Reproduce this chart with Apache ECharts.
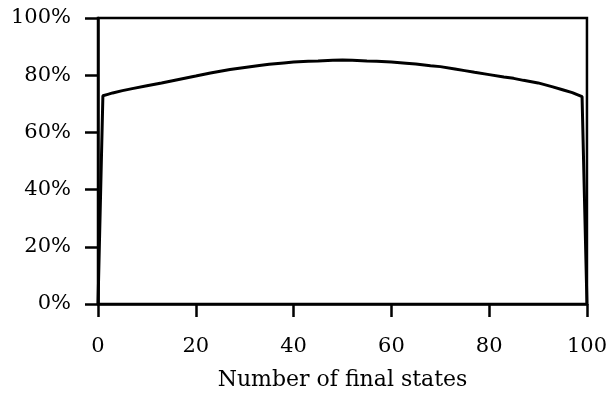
<!DOCTYPE html>
<html>
<head>
<meta charset="utf-8">
<script src="https://cdn.jsdelivr.net/npm/echarts@6/dist/echarts.min.js"></script>
<style>html,body{margin:0;padding:0;background:#fff}#c{width:610px;height:396px}</style>
</head>
<body>
<div id="c"></div>
<script>
const xValues = [0,1,2,3,5,7,10,13,15,17,20,23,25,27,30,33,35,38,40,43,45,48,50,52,55,57,60,63,65,68,70,73,75,77,80,83,85,87,90,93,95,97,98,99,100];
const yValues = [0,72.8,73.3,73.8,74.6,75.3,76.3,77.3,78.0,78.7,79.7,80.8,81.4,82.0,82.7,83.4,83.8,84.3,84.6,84.9,85.0,85.2,85.3,85.2,85.0,84.9,84.6,84.2,83.9,83.3,83.0,82.2,81.6,81.0,80.2,79.4,78.9,78.2,77.3,75.9,74.9,73.9,73.2,72.5,0];
const xTicks = [0,20,40,60,80,100];
const yTicks = [0,20,40,60,80,100];
const xTitle = 'Number of final states';

const font = 'DejaVu Serif';
const chart = echarts.init(document.getElementById('c'), null, {renderer:'canvas'});
chart.setOption({
  animation: false,
  grid: {left: 98, right: 20, top: 18, bottom: 92, show: true, borderColor: '#000', borderWidth: 2.5, backgroundColor: 'transparent'},
  xAxis: {
    type: 'value', min: 0, max: 100, interval: 20,
    name: xTitle, nameLocation: 'middle', nameGap: 76,
    nameTextStyle: {fontFamily: font, fontSize: 22, color: '#000', verticalAlign: 'middle'},
    axisLine: {show: true, lineStyle: {color: '#000', width: 2.5}},
    axisTick: {show: true, inside: false, length: 13, lineStyle: {color: '#000', width: 2.5}},
    axisLabel: {fontFamily: font, fontSize: 21, color: '#000', margin: 32,
      formatter: v => xTicks.includes(v) ? String(v) : ''},
    splitLine: {show: false}
  },
  yAxis: {
    type: 'value', min: 0, max: 100, interval: 20,
    axisLine: {show: true, lineStyle: {color: '#000', width: 2.5}},
    axisTick: {show: true, inside: false, length: 13, lineStyle: {color: '#000', width: 2.5}},
    axisLabel: {fontFamily: font, fontSize: 21, color: '#000', margin: 27,
      formatter: v => yTicks.includes(v) ? v + '%' : ''},
    splitLine: {show: false}
  },
  series: [{
    type: 'line',
    data: xValues.map((x, i) => [x, yValues[i]]),
    showSymbol: false,
    lineStyle: {color: '#000', width: 3},
    smooth: false
  }]
});
</script>
</body>
</html>
